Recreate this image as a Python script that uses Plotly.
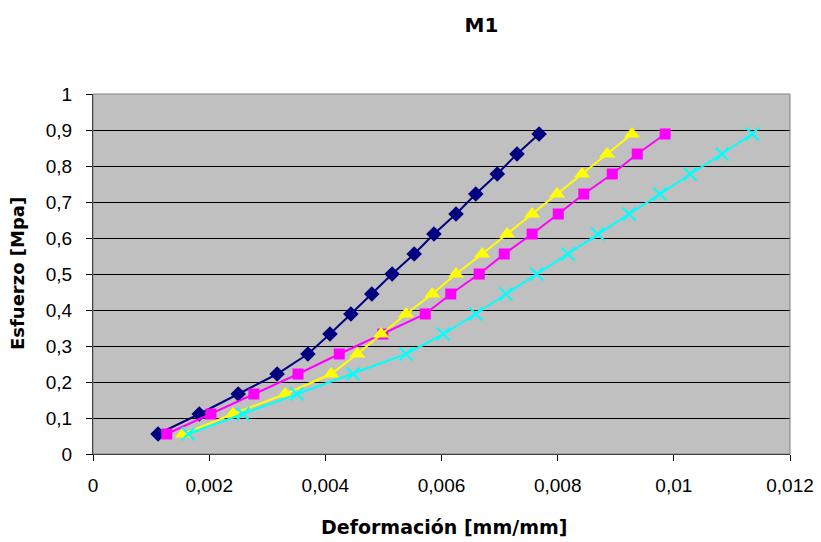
import plotly.graph_objects as go

esfuerzo = [0.0556, 0.1111, 0.1667, 0.2222, 0.2778, 0.3333, 0.3889, 0.4444,
            0.5, 0.5556, 0.6111, 0.6667, 0.7222, 0.7778, 0.8333, 0.8889]

def_azul = [0.00112, 0.00183, 0.00250, 0.00317, 0.00370, 0.00408, 0.00444, 0.00480,
            0.00515, 0.00553, 0.00587, 0.00625, 0.00659, 0.00696, 0.00730, 0.00768]
def_magenta = [0.00127, 0.00203, 0.00277, 0.00353, 0.00424, 0.00499, 0.00572, 0.00616,
               0.00665, 0.00708, 0.00756, 0.00801, 0.00845, 0.00894, 0.00937, 0.00985]
def_amarillo = [0.00155, 0.00241, 0.00331, 0.00410, 0.00455, 0.00496, 0.00539, 0.00584,
                0.00625, 0.00670, 0.00713, 0.00756, 0.00799, 0.00842, 0.00885, 0.00928]
def_cian = [0.00164, 0.00258, 0.00351, 0.00448, 0.00539, 0.00603, 0.00659, 0.00711,
            0.00764, 0.00818, 0.00869, 0.00923, 0.00976, 0.01028, 0.01083, 0.01135]

series = [
    (def_azul, "#000080", "diamond", 12),
    (def_magenta, "#FF00FF", "square", 11),
    (def_amarillo, "#FFFF00", "triangle-up", 14),
    (def_cian, "#00FFFF", "x-thin-open", 13),
]

fig = go.Figure()
for xs, col, sym, sz in series:
    marker = dict(symbol=sym, size=sz, color=col)
    if sym == "x-thin-open":
        marker["line"] = dict(color=col, width=2)
    fig.add_trace(go.Scatter(x=xs, y=esfuerzo, mode="lines+markers",
                             line=dict(color=col, width=2), marker=marker,
                             showlegend=False))

tick_font = "Liberation Sans, Arial, sans-serif"
title_font = "DejaVu Sans, sans-serif"
fig.update_layout(
    width=821, height=542,
    margin=dict(l=93, r=31, t=94, b=88),
    paper_bgcolor="white",
    plot_bgcolor="#C0C0C0",
    separators=",.",
    font=dict(family=tick_font, size=19, color="black"),
    title=dict(text="<b>M1</b>", x=481.5/821, xanchor="center", y=1-25/542, yanchor="middle",
               font=dict(size=20, family=title_font)),
    xaxis=dict(range=[0, 0.012], dtick=0.002, tick0=0, showgrid=False, automargin=False,
               showline=True, linecolor="black", linewidth=1,
               ticks="outside", ticklen=6, tickcolor="black", zeroline=False,
               ticklabelstandoff=8, tickfont=dict(size=19, family=tick_font)),
    yaxis=dict(range=[0, 1], dtick=0.1, tick0=0, showgrid=True, gridcolor="black",
               gridwidth=1, showline=True, linecolor="black", linewidth=1, automargin=False,
               ticks="outside", ticklen=6, tickcolor="black", zeroline=False,
               ticklabelstandoff=10, tickfont=dict(size=19, family=tick_font)),
    annotations=[
        dict(text="<b>Deformación [mm/mm]</b>", xref="paper", yref="paper",
             x=(443.5-93)/697, y=(454-527)/360, xanchor="center", yanchor="middle",
             showarrow=False, font=dict(size=19, family=title_font)),
        dict(text="<b>Esfuerzo [Mpa]</b>", xref="paper", yref="paper",
             x=(17-93)/697, y=0.5, xanchor="center", yanchor="middle", textangle=-90,
             showarrow=False, font=dict(size=18, family=title_font)),
    ],
)
fig.add_shape(type="rect", xref="paper", yref="paper", x0=0, y0=0, x1=1, y1=1,
              line=dict(color="#808080", width=1), layer="above")
fig.write_html("out.html")
